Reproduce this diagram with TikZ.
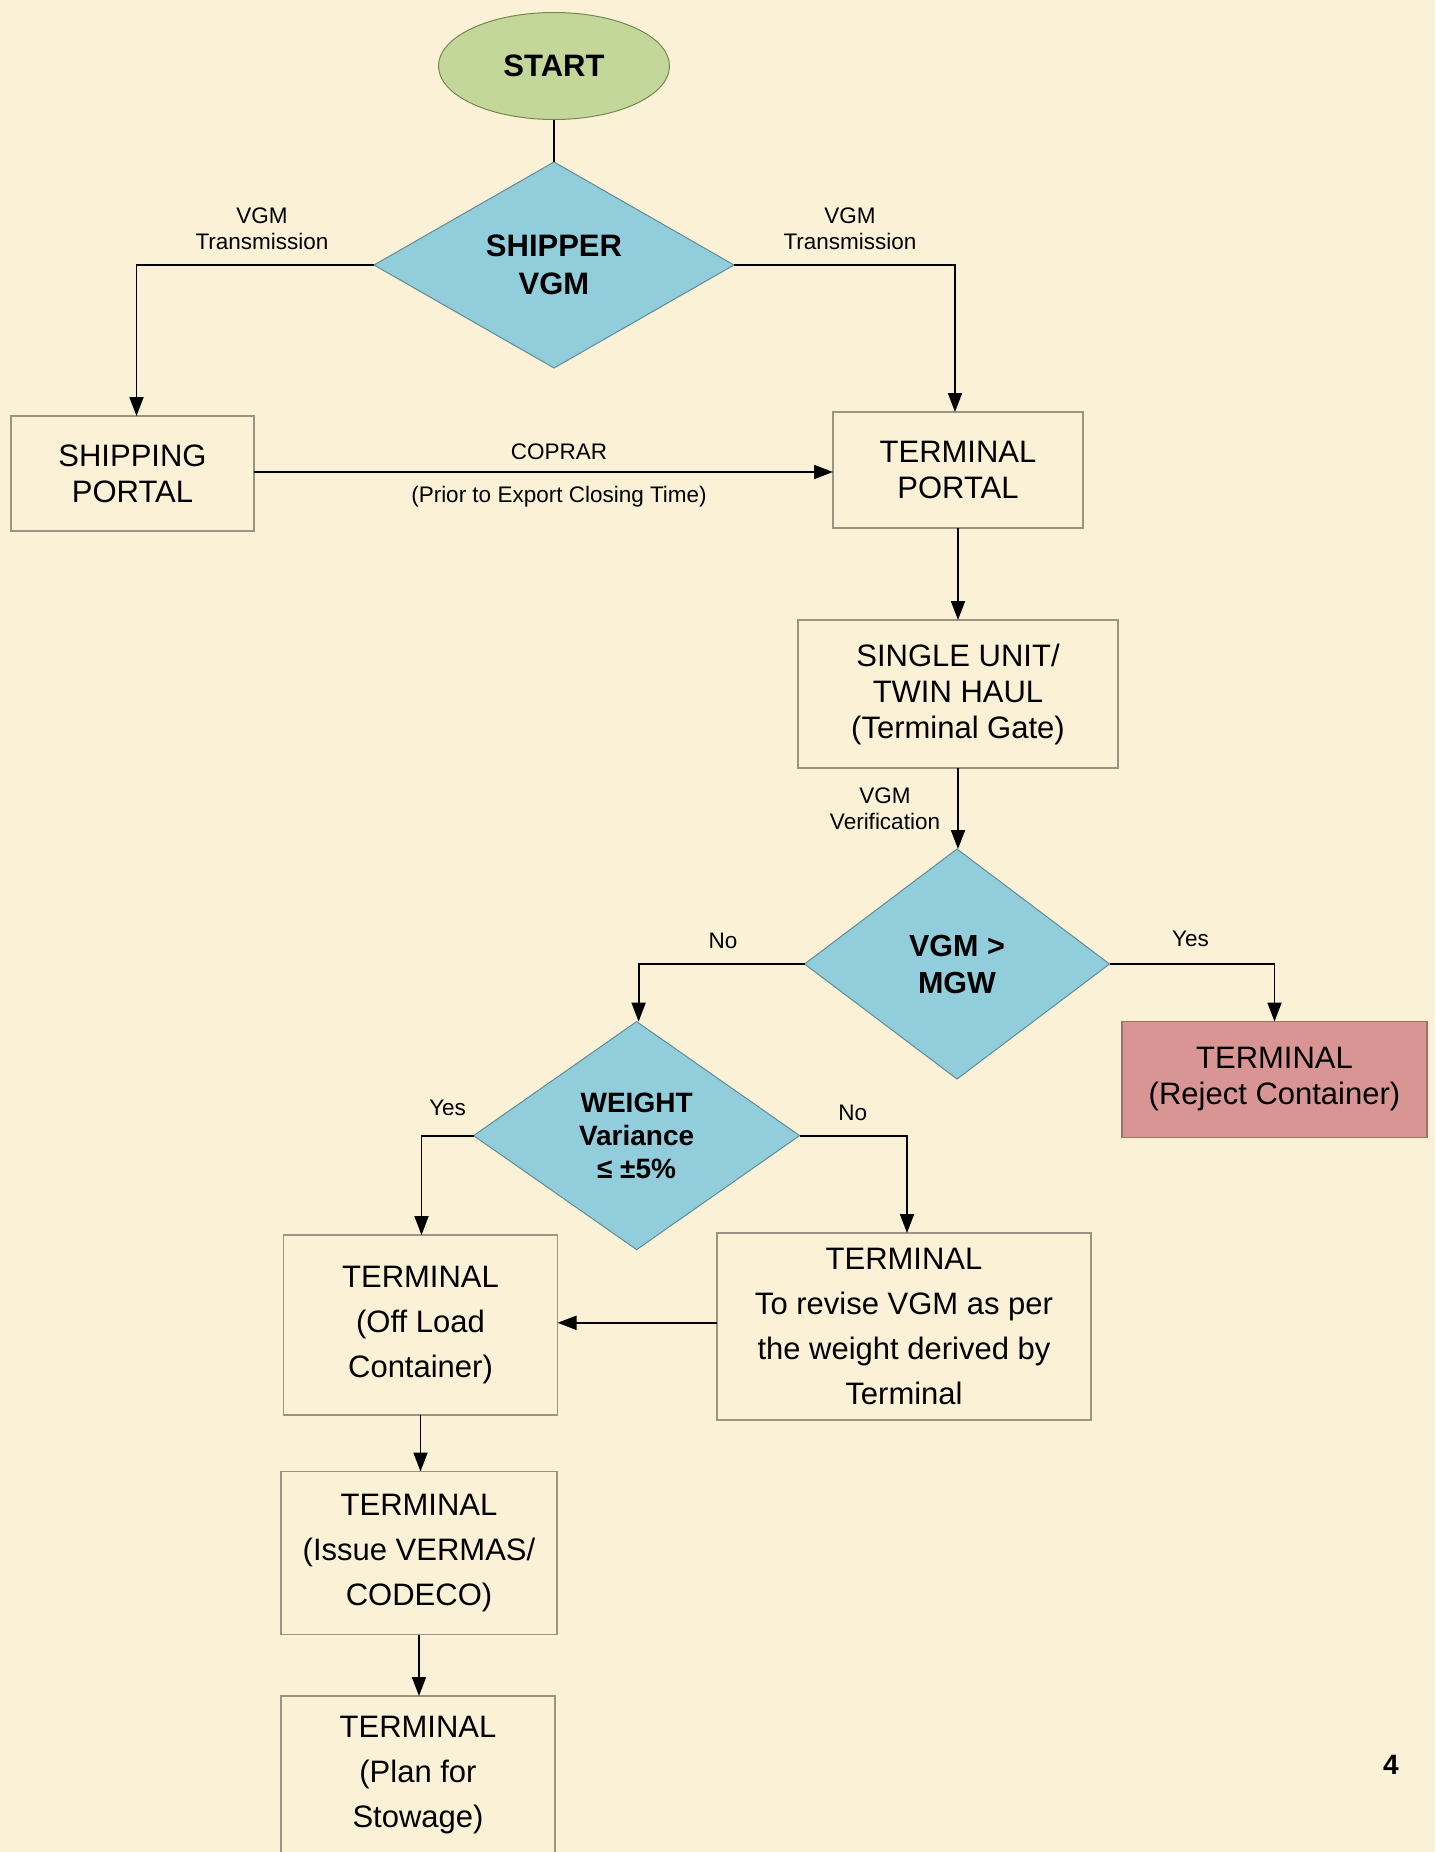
\documentclass[tikz,border=0pt]{standalone}
\usepackage{fontspec}
\setmainfont{Liberation Sans}
\usetikzlibrary{shapes.geometric,arrows.meta}
\definecolor{bgc}{HTML}{FBF1D6}
\definecolor{grn}{HTML}{C4D79B}
\definecolor{grnb}{HTML}{76874F}
\definecolor{blu}{HTML}{92CDDC}
\definecolor{blub}{HTML}{5E8D98}
\definecolor{pnk}{HTML}{D99594}
\definecolor{pnkb}{HTML}{9C7468}
\definecolor{boxb}{HTML}{9A9482}
\begin{document}
\begin{tikzpicture}[x=1pt,y=-1pt,
  every node/.style={inner sep=0pt,outer sep=0pt},
  box/.style={draw=boxb,line width=1.3pt,rectangle,align=center,font=\fontsize{31}{36}\selectfont},
  boxw/.style={box,font=\fontsize{31}{45}\selectfont},
  dia/.style={diamond,draw=blub,line width=1pt,fill=blu,align=center},
  lbl/.style={font=\fontsize{22.5}{26}\selectfont,align=center},
  conn/.style={line width=1.8pt,black},
  arr/.style={conn,-{Triangle[length=19pt,width=14pt]}}]
\clip (0,0) rectangle (1435,1852);
\fill[bgc] (0,0) rectangle (1435,1852);
% nodes
\node[ellipse,draw=grnb,line width=1pt,fill=grn,minimum width=231pt,minimum height=107pt,
  font=\bfseries\fontsize{31}{36}\selectfont] (start) at (554,66) {START};
\node[dia,shape aspect=1.75,minimum width=360pt,minimum height=206pt,
  font=\bfseries\fontsize{31}{38}\selectfont] (ship) at (554,265) {SHIPPER\\VGM};
\node[box,minimum width=243pt,minimum height=115pt] (sp) at (132.5,473.5) {SHIPPING\\PORTAL};
\node[box,minimum width=250pt,minimum height=116pt] (tp) at (958,470) {TERMINAL\\PORTAL};
\node[box,minimum width=320pt,minimum height=148pt] (su) at (958,694) {SINGLE UNIT/\\TWIN HAUL\\(Terminal Gate)};
\node[dia,shape aspect=1.33,minimum width=305pt,minimum height=230pt,
  font=\bfseries\fontsize{30.5}{37}\selectfont] (vm) at (957,964) {VGM >\\MGW};
\node[box,draw=pnkb,fill=pnk,minimum width=305pt,minimum height=116pt] (rj) at (1274.5,1079.5) {TERMINAL\\(Reject Container)};
\node[dia,shape aspect=1.43,minimum width=326pt,minimum height=228pt,
  font=\bfseries\fontsize{28}{33}\selectfont] (wv) at (636.6,1135.6) {WEIGHT\\Variance\\≤ ±5\%};
\node[boxw,minimum width=274pt,minimum height=180pt] (ol) at (420.5,1325) {TERMINAL\\(Off Load\\Container)};
\node[boxw,minimum width=374pt,minimum height=187pt] (rv) at (904,1326.5) {TERMINAL\\To revise VGM as per\\the weight derived by\\Terminal};
\node[boxw,minimum width=276pt,minimum height=163pt] (is) at (419,1553) {TERMINAL\\(Issue VERMAS/\\CODECO)};
\node[boxw,minimum width=274pt,minimum height=220pt,anchor=north] (pl) at (418,1696) {\\[-4pt]TERMINAL\\(Plan for\\Stowage)\\ \\};
% labels
\node[lbl] (l1) at (262,229) {VGM\\Transmission};
\node[lbl] (l2) at (850,229) {VGM\\Transmission};
\node[lbl] (l3) at (559,452) {COPRAR};
\node[lbl] (l4) at (559,497) {(Prior to Export Closing Time)};
\node[lbl] (l5) at (885,809) {VGM\\Verification};
\node[lbl] (l6) at (723,941) {No};
\node[lbl] (l7) at (1190.5,939) {Yes};
\node[lbl] (l8) at (447.6,1108) {Yes};
\node[lbl] (l9) at (852.7,1112.6) {No};
\node[font=\bfseries\fontsize{28}{32}\selectfont] (pg) at (1391,1765) {4};
% connectors
\draw[conn] (start.south) -- (ship.north);
\draw[arr] (ship.west) -| ([xshift=4pt]sp.north);
\draw[arr] (ship.east) -| ([xshift=-3pt]tp.north);
\draw[arr] (sp.east |- 0,472) -- (tp.west |- 0,472);
\draw[arr] (tp.south) -- (tp.south |- su.north);
\draw[arr] (su.south) -- (su.south |- vm.north);
\draw[arr] (vm.west) -| ([xshift=2pt]wv.north);
\draw[arr] (vm.east) -| (rj.north);
\draw[arr] (wv.west) -| ([xshift=1pt]ol.north);
\draw[arr] (wv.east) -| ([xshift=3pt]rv.north);
\draw[arr] (rv.west |- 0,1322.8) -- (ol.east |- 0,1322.8);
\draw[arr] (ol.south) -- (ol.south |- is.north);
\draw[arr] (is.south) -- (is.south |- pl.north);
\end{tikzpicture}
\end{document}
